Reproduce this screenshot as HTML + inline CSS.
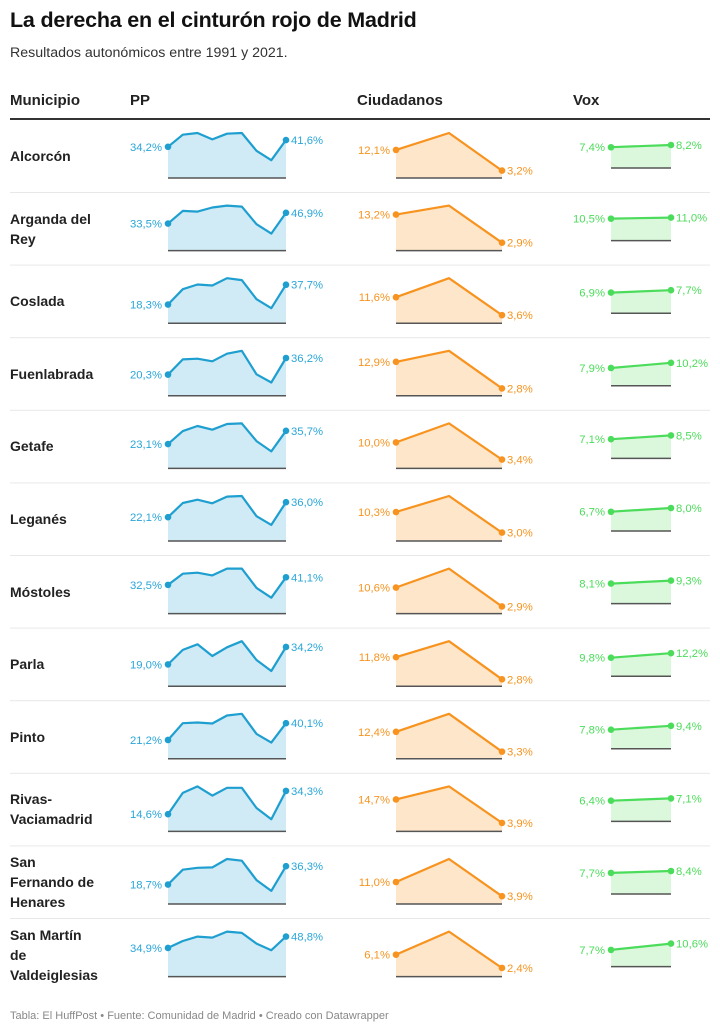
<!DOCTYPE html>
<html><head><meta charset="utf-8">
<style>
body{margin:0;width:720px;height:1035px;background:#fff;font-family:"Liberation Sans",sans-serif;position:relative;overflow:hidden}
.t{position:absolute;left:10px;top:8px;font-size:21.5px;font-weight:bold;color:#111;letter-spacing:-0.2px}
.s{position:absolute;left:10px;top:45px;font-size:14.2px;color:#333}
.h{position:absolute;top:92px;font-size:15px;font-weight:bold;color:#222}
.f{position:absolute;left:10px;top:1010px;font-size:11px;color:#888}
.n{position:absolute;left:10px;font-size:14px;font-weight:bold;color:#222;line-height:20px}
svg{position:absolute;left:0;top:0}
</style></head><body>
<div class="t">La derecha en el cinturón rojo de Madrid</div>
<div class="s">Resultados autonómicos entre 1991 y 2021.</div>
<div class="h" style="left:10px">Municipio</div>
<div class="h" style="left:130px">PP</div>
<div class="h" style="left:357px">Ciudadanos</div>
<div class="h" style="left:573px">Vox</div>
<div id="names"></div>
<svg id="chart" width="720" height="1035"></svg>
<div class="f">Tabla: El HuffPost • Fuente: Comunidad de Madrid • Creado con Datawrapper</div>
<script>
const municipios = ["Alcorcón","Arganda del<br>Rey","Coslada","Fuenlabrada","Getafe","Leganés","Móstoles","Parla","Pinto","Rivas-<br>Vaciamadrid","San<br>Fernando de<br>Henares","San Martín<br>de<br>Valdeiglesias"];
const ppValues = [
[34.2,47.4,49.3,42.3,48.5,49.3,29.8,19.5,41.6],
[33.5,49.2,48.4,53.4,55.8,54.6,32.7,21.1,46.9],
[18.3,33.3,37.9,36.9,44.1,42.2,23.5,14.7,37.7],
[20.3,34.9,35.5,33.0,40.3,43.1,20.6,12.7,36.2],
[23.1,35.4,40.2,36.7,42.1,42.7,25.9,16.1,35.7],
[22.1,35.2,38.3,34.9,41.1,41.7,23.0,14.9,36.0],
[32.5,45.1,46.3,43.2,50.9,50.9,29.1,18.0,41.1],
[19.0,31.6,36.5,26.3,33.9,39.2,22.8,13.2,34.2],
[21.2,40.1,40.9,39.8,48.8,50.7,28.0,18.2,40.1],
[14.6,32.6,38.1,30.3,36.9,36.9,19.8,10.3,34.3],
[18.7,32.9,34.8,35.1,43.2,41.6,22.9,12.6,36.3],
[34.9,43.4,48.7,47.5,54.8,53.2,40.2,32.1,48.8]];
const csValues = [
[12.1,19.4,3.2],[13.2,16.5,2.9],[11.6,20.1,3.6],[12.9,17.1,2.8],[10.0,17.3,3.4],[10.3,16.0,3.0],
[10.6,18.3,2.9],[11.8,18.3,2.8],[12.4,20.7,3.3],[14.7,20.7,3.9],[11.0,22.5,3.9],[6.1,12.5,2.4]];
const voxValues = [
[7.4,8.2],[10.5,11.0],[6.9,7.7],[7.9,10.2],[7.1,8.5],[6.7,8.0],[8.1,9.3],[9.8,12.2],[7.8,9.4],[6.4,7.1],[7.7,8.4],[7.7,10.6]];

const NS="http://www.w3.org/2000/svg";
const svg=document.getElementById('chart');
const names=document.getElementById('names');
function mk(tag,attrs){const e=document.createElementNS(NS,tag);for(const k in attrs)e.setAttribute(k,attrs[k]);svg.appendChild(e);return e;}
function fmt(v){return v.toFixed(1).replace('.',',')+'%';}
let hr=mk('rect',{x:10,y:118,width:700,height:2,fill:'#333'});



const cols=[
 {key:'pp',x0:168,x1:286,h:45,off:0,line:'#1e9fd0',fill:'#d0ebf5',lab:'#2aa6d8'},
 {key:'cs',x0:396,x1:502,h:45,off:0,line:'#f7931e',fill:'#fde6c9',lab:'#f7931e'},
 {key:'vox',x0:611,x1:671,h:23,off:10,line:'#4cdc5b',fill:'#dbf8dc',lab:'#4cdc5b'}];
const data={pp:ppValues,cs:csValues,vox:voxValues};

municipios.forEach((m,i)=>{
  const base=178+i*72.6;
  const lines=m.split('<br>').length;
  const d=document.createElement('div');
  d.className='n';
  d.innerHTML=m;
  d.style.top=(base-22-lines*10)+'px';
  
  
  names.appendChild(d);
  if(i<municipios.length-1){
    const sep=mk('rect',{x:10,y:base+14,width:700,height:1,fill:'#e8e8e8'});
    
    
  }
  cols.forEach(c=>{
    const vals=data[c.key][i];
    const b=base-c.off;
    const mx=Math.max(...vals);
    const xs=v=>c.x0+(c.x1-c.x0)*v/(vals.length-1);
    const ys=v=>b-(v/mx)*c.h;
    let pts=vals.map((v,j)=>xs(j).toFixed(1)+','+ys(v).toFixed(1));
    const area=mk('polygon',{points:c.x0+','+b+' '+pts.join(' ')+' '+c.x1+','+b,fill:c.fill});
    
    
    const bl=mk('line',{x1:c.x0,x2:c.x1,y1:b,y2:b,stroke:'#555','stroke-width':1.5});
    
    
    const pl=mk('polyline',{points:pts.join(' '),fill:'none',stroke:c.line,'stroke-width':2.2,'stroke-linejoin':'round'});
    
    
    [0,vals.length-1].forEach(j=>{
      const cx=xs(j),cy=ys(vals[j]);
      const dot=mk('circle',{cx:cx,cy:cy,r:3.3,fill:c.line});
      
      
      const t=mk('text',{x:j===0?cx-6:cx+5,y:cy+4,'font-size':11.3,fill:c.lab,'text-anchor':j===0?'end':'start','font-family':'Liberation Sans, sans-serif'});
      t.textContent=fmt(vals[j]);
      
      
    });
  });
});
</script>
</body></html>
